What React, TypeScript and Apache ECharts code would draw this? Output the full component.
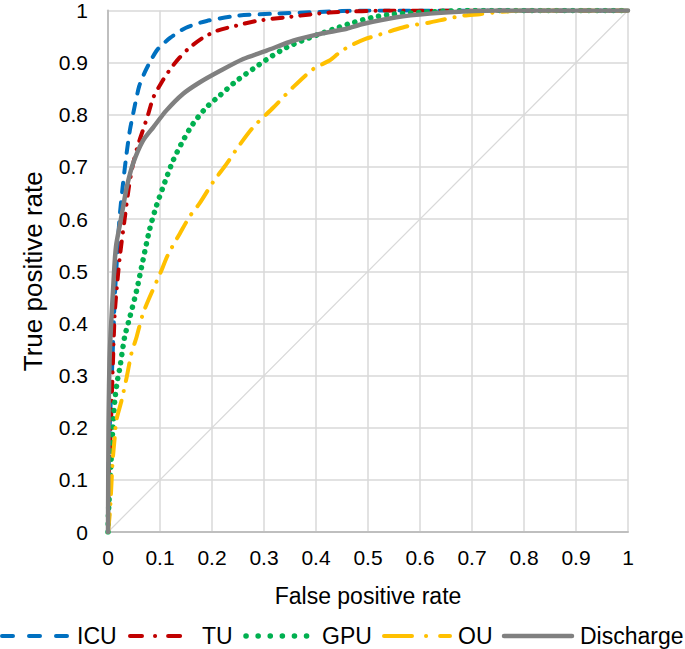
import React, { useEffect, useRef } from "react";
import * as echarts from "echarts";

const seriesNames = ["ICU", "TU", "GPU", "OU", "Discharge"];
const seriesColors = ["#0070C0", "#C00000", "#00B050", "#FFC000", "#808080"];

const icuX = [0, 0.001, 0.002, 0.004, 0.007, 0.01, 0.013, 0.017, 0.022, 0.028, 0.035, 0.042, 0.05, 0.06, 0.07, 0.08, 0.095, 0.12, 0.15, 0.19, 0.25, 0.32, 0.4, 0.5, 0.6, 0.8, 1];
const icuY = [0, 0.1, 0.16, 0.22, 0.29, 0.37, 0.45, 0.52, 0.6, 0.66, 0.72, 0.77, 0.81, 0.855, 0.88, 0.9, 0.925, 0.948, 0.967, 0.98, 0.99, 0.994, 0.997, 1, 1, 1, 1];

const tuX = [0, 0.001, 0.002, 0.004, 0.007, 0.01, 0.013, 0.018, 0.023, 0.032, 0.04, 0.048, 0.057, 0.067, 0.077, 0.087, 0.103, 0.12, 0.138, 0.157, 0.183, 0.209, 0.247, 0.286, 0.343, 0.426, 0.55, 0.7, 1];
const tuY = [0, 0.08, 0.12, 0.16, 0.25, 0.34, 0.42, 0.48, 0.53, 0.6, 0.66, 0.705, 0.74, 0.77, 0.8, 0.833, 0.862, 0.888, 0.91, 0.929, 0.948, 0.961, 0.971, 0.98, 0.987, 0.996, 1, 1, 1];

const gpuX = [0, 0.001, 0.003, 0.006, 0.009, 0.013, 0.018, 0.023, 0.032, 0.042, 0.055, 0.067, 0.08, 0.093, 0.109, 0.125, 0.144, 0.163, 0.189, 0.215, 0.247, 0.279, 0.311, 0.343, 0.388, 0.433, 0.472, 0.51, 0.549, 0.613, 0.7, 1];
const gpuY = [0, 0.04, 0.08, 0.14, 0.195, 0.252, 0.29, 0.316, 0.374, 0.412, 0.463, 0.52, 0.58, 0.625, 0.67, 0.712, 0.75, 0.782, 0.814, 0.837, 0.865, 0.888, 0.91, 0.929, 0.948, 0.964, 0.977, 0.987, 0.993, 0.997, 1, 1];

const ouX = [0, 0.003, 0.005, 0.009, 0.013, 0.016, 0.026, 0.036, 0.045, 0.055, 0.067, 0.08, 0.1, 0.116, 0.138, 0.157, 0.176, 0.202, 0.228, 0.25, 0.279, 0.318, 0.356, 0.395, 0.426, 0.446, 0.465, 0.494, 0.523, 0.555, 0.581, 0.619, 0.651, 0.683, 0.715, 0.75, 0.8, 1];
const ouY = [0, 0.03, 0.06, 0.137, 0.182, 0.214, 0.252, 0.297, 0.342, 0.374, 0.418, 0.45, 0.495, 0.533, 0.572, 0.605, 0.63, 0.671, 0.706, 0.738, 0.776, 0.814, 0.853, 0.888, 0.904, 0.92, 0.932, 0.945, 0.954, 0.964, 0.971, 0.977, 0.984, 0.99, 0.993, 0.997, 1, 1];

const disX = [0, 0.001, 0.002, 0.003, 0.005, 0.01, 0.013, 0.016, 0.023, 0.029, 0.036, 0.048, 0.067, 0.087, 0.112, 0.144, 0.176, 0.215, 0.26, 0.305, 0.356, 0.407, 0.459, 0.49, 0.555, 0.619, 0.683, 0.75, 1];
const disY = [0, 0.2, 0.28, 0.33, 0.38, 0.469, 0.52, 0.552, 0.59, 0.623, 0.661, 0.706, 0.75, 0.776, 0.808, 0.84, 0.862, 0.884, 0.907, 0.923, 0.942, 0.955, 0.965, 0.974, 0.987, 0.994, 0.998, 1, 1];

const diagX = [0, 1];
const diagY = [0, 1];

const zip = (xs: number[], ys: number[]) => xs.map((x, i) => [x, ys[i]]);

const FONT = "Liberation Sans, Arial, sans-serif";

// line styles per series: dash pattern, width
const dashes: any[] = [[10, 10], [10, 9, 0.1, 9], [0.1, 8], [18, 10, 0.1, 10], "solid"];
const widths = [4, 4, 5.5, 4, 4.5];
// legend layout
const legendLine = [[2, 68], [130, 183], [246, 307], [384, 450], [504, 572]];
const legendDash: any[] = [[11, 16], [12, 13, 0.1, 13], [0.1, 12], [28, 14, 0.1, 14], null];
const legendTextX = [77, 202, 322, 458, 580];
const LEGEND_Y = 636;

export default function App() {
  const ref = useRef<HTMLDivElement>(null);
  useEffect(() => {
    document.body.style.margin = "0";
    const chart = echarts.init(ref.current!, null, { renderer: "svg" });
    const datas = [zip(icuX, icuY), zip(tuX, tuY), zip(gpuX, gpuY), zip(ouX, ouY), zip(disX, disY)];
    const series: any[] = [
      {
        name: "diag",
        type: "line",
        data: zip(diagX, diagY),
        showSymbol: false,
        symbol: "none",
        lineStyle: { color: "#d9d9d9", width: 1.2 },
        silent: true,
      },
    ];
    seriesNames.forEach((name, i) => {
      series.push({
        name,
        type: "line",
        data: datas[i],
        showSymbol: false,
        symbol: "none",
        smooth: 0.25,
        lineStyle: { color: seriesColors[i], width: widths[i], type: dashes[i], cap: "round", join: "round" },
        itemStyle: { color: seriesColors[i] },
      });
    });
    const graphics: any[] = [];
    seriesNames.forEach((name, i) => {
      const style: any = { stroke: seriesColors[i], lineWidth: widths[i], lineCap: "round" };
      if (legendDash[i]) style.lineDash = legendDash[i];
      graphics.push({
        type: "line",
        shape: { x1: legendLine[i][0], y1: LEGEND_Y, x2: legendLine[i][1], y2: LEGEND_Y },
        style,
      });
      graphics.push({
        type: "text",
        x: legendTextX[i],
        y: LEGEND_Y,
        style: {
          text: name,
          font: `23px ${FONT}`,
          fill: "#000",
          textVerticalAlign: "middle",
          verticalAlign: "middle",
        },
      });
    });
    chart.setOption({
      animation: false,
      textStyle: { fontFamily: FONT },
      grid: { left: 108, right: 57, top: 10, bottom: 117, containLabel: false },
      xAxis: {
        type: "value",
        min: 0,
        max: 1,
        interval: 0.1,
        name: "False positive rate",
        nameLocation: "middle",
        nameGap: 52,
        nameTextStyle: { fontSize: 23, color: "#000", fontFamily: FONT },
        axisLine: { show: true, lineStyle: { color: "#bfbfbf", width: 2 } },
        axisTick: { show: false },
        axisLabel: { fontSize: 21, color: "#000", margin: 15, fontFamily: FONT },
        splitLine: { show: true, lineStyle: { color: "#d9d9d9", width: 1.5 } },
      },
      yAxis: {
        type: "value",
        min: 0,
        max: 1,
        interval: 0.1,
        name: "True positive rate",
        nameLocation: "middle",
        nameGap: 62,
        nameTextStyle: { fontSize: 26, color: "#000", fontFamily: FONT },
        axisLine: { show: true, lineStyle: { color: "#bfbfbf", width: 2 } },
        axisTick: { show: false },
        axisLabel: { fontSize: 21, color: "#000", margin: 20, fontFamily: FONT },
        splitLine: { show: true, lineStyle: { color: "#d9d9d9", width: 1.5 } },
      },
      graphic: graphics,
      series,
    });
    return () => chart.dispose();
  }, []);
  return <div ref={ref} style={{ width: 685, height: 649 }} />;
}
